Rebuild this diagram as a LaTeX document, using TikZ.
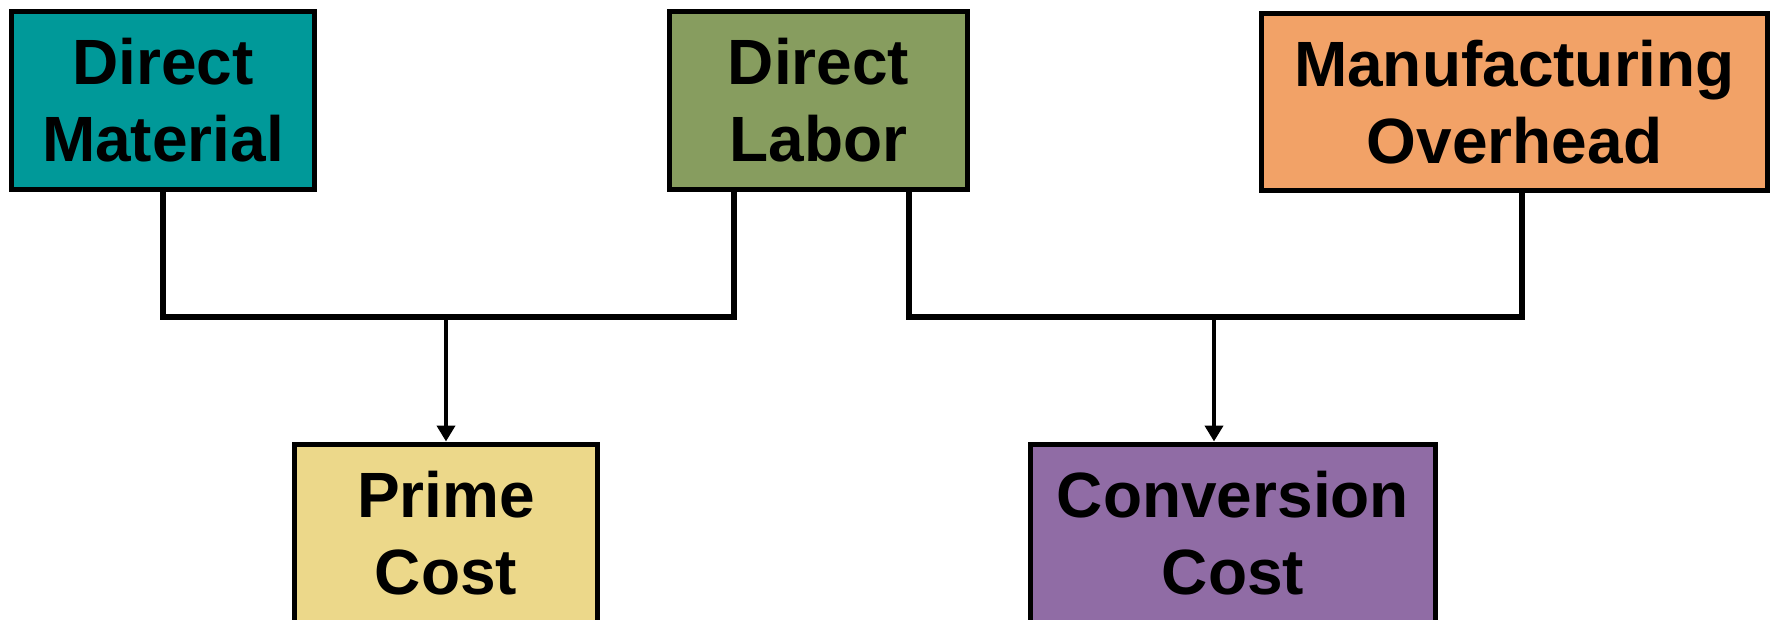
\documentclass[tikz,border=0pt]{standalone}
\usepackage{fontspec}
\setmainfont{Liberation Sans}
\usetikzlibrary{arrows.meta}
\definecolor{dmcol}{RGB}{0,153,153}
\definecolor{dlcol}{RGB}{135,157,95}
\definecolor{mocol}{RGB}{242,162,103}
\definecolor{pccol}{RGB}{236,216,138}
\definecolor{cccol}{RGB}{144,108,165}
\begin{document}
\begin{tikzpicture}[x=1pt, y=-1pt,
    costbox/.style={draw=black, line width=5pt, align=center, inner sep=0pt,
        font=\fontsize{64}{77}\selectfont\bfseries, minimum height=178pt},
    link/.style={line width=6pt},
    feed/.style={line width=4.5pt, -{Triangle[width=18pt,length=16pt]}}]
    \useasboundingbox (0,0) rectangle (1777,619);

    % 1. Các hộp chi phí
    \node[costbox, fill=dmcol, minimum width=303pt] (dm) at (163,100.5) {Direct\\Material};
    \node[costbox, fill=dlcol, minimum width=298pt] (dl) at (818.5,100.5) {Direct\\Labor};
    \node[costbox, fill=mocol, minimum width=506pt, minimum height=177pt] (mo) at (1514.5,102) {Manufacturing\\Overhead};
    \node[costbox, fill=pccol, minimum width=303pt] (pc) at (446,533) {Prime\\Cost};
    \node[costbox, fill=cccol, minimum width=405pt] (cc) at (1233,533) {Conversion\\Cost};

    % 2. Các điểm nối
    \coordinate (dmL) at (163,317);
    \coordinate (dlL) at (734,317);
    \coordinate (pcT) at (446,317);
    \coordinate (dlR) at (909,317);
    \coordinate (moR) at (1522,317);
    \coordinate (ccT) at (1214,317);

    % 3. Đường nối chi phí ban đầu
    \draw[link] (dm.south -| dmL) -- (dmL) -- (dlL) -- (dl.south -| dlL);
    \draw[feed] (pcT) -- (pc.north);

    % 4. Đường nối chi phí chuyển đổi
    \draw[link] (dl.south -| dlR) -- (dlR) -- (moR) -- (mo.south -| moR);
    \draw[feed] (ccT) -- (ccT |- cc.north);
\end{tikzpicture}
\end{document}
